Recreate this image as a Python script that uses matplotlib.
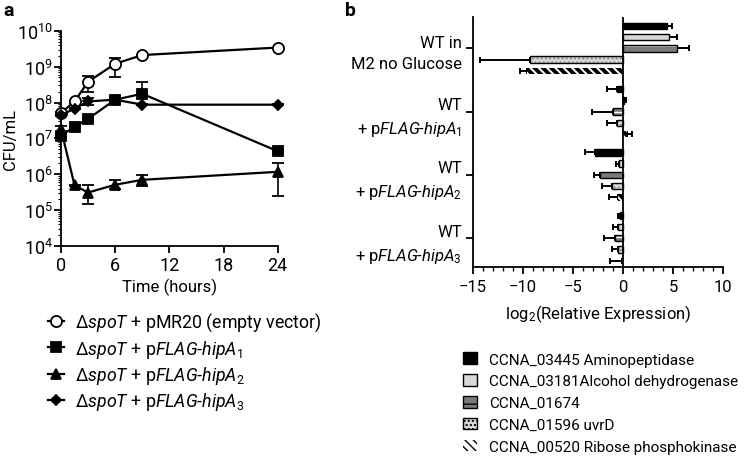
import numpy as np
import matplotlib
matplotlib.use("Agg")
import matplotlib.pyplot as plt
from matplotlib.patches import Patch
from matplotlib.lines import Line2D
from matplotlib.ticker import LogLocator, NullFormatter

plt.rcParams['font.family'] = ['Roboto', 'DejaVu Sans']
plt.rcParams['mathtext.fontset'] = 'custom'
plt.rcParams['mathtext.rm'] = 'Roboto'
plt.rcParams['mathtext.it'] = 'Roboto:italic'
plt.rcParams['mathtext.bf'] = 'Roboto:bold'
plt.rcParams['hatch.linewidth'] = 1.0

# ---- panel a data ----
hours = [0, 1.5, 3, 6, 9, 24]
empty = [5.1e7, 1.07e8, 3.8e8, 1.2e9, 2.1e9, 3.4e9]
empty_hi = [5.5e7, 1.1e8, 5.6e8, 1.75e9, 2.1e9, 3.4e9]
empty_lo = [4.7e7, 1.0e8, 1.95e8, 5.1e8, 2.1e9, 3.4e9]
hipA1 = [1.2e7, 2.1e7, 3.5e7, 1.2e8, 1.75e8, 4.4e6]
hipA1_hi = [1.3e7, 2.2e7, 3.6e7, 1.45e8, 3.7e8, 4.6e6]
hipA1_lo = [1.1e7, 2.0e7, 3.4e7, 0.95e8, 1.75e8, 4.2e6]
hipA2 = [1.8e7, 4.9e5, 3.1e5, 5.1e5, 7.0e5, 1.17e6]
hipA2_hi = [2.2e7, 5.0e5, 4.9e5, 7.1e5, 9.8e5, 2.1e6]
hipA2_lo = [1.5e7, 4.8e5, 1.45e5, 3.8e5, 4.7e5, 2.4e5]
hipA3 = [4.4e7, 6.8e7, 1.07e8, 1.2e8, 8.7e7, 8.7e7]
hipA3_hi = [4.6e7, 7.0e7, 1.35e8, 1.3e8, 9.0e7, 9.0e7]
hipA3_lo = [4.2e7, 6.6e7, 0.85e8, 1.1e8, 8.4e7, 8.4e7]
labels_a = [r'$\mathit{\Delta spoT}$ + pMR20 (empty vector)',
            r'$\mathit{\Delta spoT}$ + p$\mathit{FLAG}$-$\mathit{hipA_1}$',
            r'$\mathit{\Delta spoT}$ + p$\mathit{FLAG}$-$\mathit{hipA_2}$',
            r'$\mathit{\Delta spoT}$ + p$\mathit{FLAG}$-$\mathit{hipA_3}$']

# ---- panel b data ----
groups = ['WT in\nM2 no Glucose',
          'WT\n+ p$\\mathit{FLAG}$-$\\mathit{hipA_1}$',
          'WT\n+ p$\\mathit{FLAG}$-$\\mathit{hipA_2}$',
          'WT\n+ p$\\mathit{FLAG}$-$\\mathit{hipA_3}$']
genes = ['CCNA_03445 Aminopeptidase', 'CCNA_03181Alcohol dehydrogenase',
         'CCNA_01674', 'CCNA_01596 uvrD', 'CCNA_00520 Ribose phosphokinase']
g03445 = [4.37, -0.63, -2.8, -0.3]
g03181 = [4.63, 0.1, -0.4, -0.47]
g01674 = [5.43, -0.97, -2.3, -0.8]
g01596 = [-9.3, -0.63, -1.13, -0.47]
g00520 = [-9.63, 0.35, -0.47, -0.05]
e03445 = [0.5, 1.0, 1.0, 0.17]
e03181 = [0.8, 0.2, 0.3, 0.5]
e01674 = [1.2, 2.16, 0.6, 1.1]
e01596 = [5.0, 1.0, 1.0, 0.66]
e00520 = [0.67, 0.5, 0.93, 1.25]

fig = plt.figure(figsize=(7.47, 4.6), dpi=100)

# ================= panel a =================
ax = fig.add_axes([0.0817, 0.463, 0.29, 0.468])
styles = [dict(marker='o', mfc='white', ms=8),
          dict(marker='s', mfc='black', ms=7.5),
          dict(marker='^', mfc='black', ms=7.5),
          dict(marker='D', mfc='black', ms=5)]
series = [(empty, empty_lo, empty_hi), (hipA1, hipA1_lo, hipA1_hi),
          (hipA2, hipA2_lo, hipA2_hi), (hipA3, hipA3_lo, hipA3_hi)]
handles = []
for (y, lo, hi), st, lab in zip(series, styles, labels_a):
    y = np.array(y)
    yerr = [y - np.array(lo), np.array(hi) - y]
    ax.errorbar(hours, y, yerr=yerr, color='black', lw=1.6, capsize=4,
                elinewidth=1.2, capthick=1.2, mec='black', mew=1.3,
                clip_on=False, zorder=3, **st)
    handles.append(Line2D([], [], color='black', lw=1.6, mec='black', mew=1.3, **st))

ax.set_yscale('log')
ax.set_ylim(1e4, 1e10)
ax.yaxis.set_major_locator(LogLocator(base=10, numticks=12))
ax.yaxis.set_minor_locator(LogLocator(base=10, subs=np.arange(2, 10), numticks=12))
ax.yaxis.set_minor_formatter(NullFormatter())
ax.set_xlim(0, 24)
ax.set_xticks([0, 6, 12, 18, 24])
ax.spines['top'].set_visible(False)
ax.spines['right'].set_visible(False)
for s in ['left', 'bottom']:
    ax.spines[s].set_linewidth(1.3)
ax.tick_params(axis='both', labelsize=13, width=1.3, length=5)
ax.tick_params(axis='x', pad=2)
ax.tick_params(axis='y', pad=1)
ax.tick_params(axis='y', which='minor', width=0.8, length=2.5)
ax.set_ylabel('CFU/mL', fontsize=12)
ax.yaxis.set_label_coords(-0.2, 0.5)
ax.set_xlabel('Time (hours)', fontsize=12, labelpad=3)
fig.text(0.004, 0.995, 'a', fontsize=14, fontweight='bold', va='top')
fig.legend(handles, labels_a, loc='upper left', bbox_to_anchor=(0.055, 0.338),
           frameon=False, fontsize=12.8, handlelength=0.9, handletextpad=0.6,
           labelspacing=0.25, borderaxespad=0)

# ================= panel b =================
bx = fig.add_axes([0.633, 0.417, 0.335, 0.543])
vals = [g03445, g03181, g01674, g01596, g00520]
errs = [e03445, e03181, e01674, e01596, e00520]
faces = ['black', '#d8d8d8', '#7a7a7a', '#d8d8d8', 'white']
hatches = [None, None, '--', '....', '\\\\\\\\']
hcolors = ['black', 'black', 'white', '#888888', 'black']
hwidths = [1.0, 1.0, 1.0, 1.0, 2.8]
ypos = np.arange(len(groups))
step = 0.178
bh = 0.105
for j in range(5):
    yy = ypos + (j - 2) * step
    v = np.array(vals[j])
    e = np.array(errs[j])
    xerr = [np.where(v < 0, e, 0), np.where(v >= 0, e, 0)]
    bx.errorbar(v, yy, xerr=xerr, fmt='none', ecolor='black', elinewidth=1.4,
                capsize=2, capthick=1.4, zorder=1)
    plt.rcParams['hatch.linewidth'] = hwidths[j]
    bx.barh(yy, v, height=bh, color=faces[j], edgecolor=hcolors[j],
            hatch=hatches[j], linewidth=0, zorder=2)
    if j != 4:
        bx.barh(yy, v, height=bh, fill=False, edgecolor='black', linewidth=1.0, zorder=3)
plt.rcParams['hatch.linewidth'] = 1.0

bx.axvline(0, color='black', lw=1.3, zorder=4)
bx.set_xlim(-15, 10)
bx.set_ylim(3.46, -0.49)
bx.set_yticks(ypos)
bx.set_yticklabels(groups, fontsize=11.5, linespacing=1.5)
bx.set_xticks([-15, -10, -5, 0, 5, 10])
bx.set_xticks(np.arange(-15, 11, 1), minor=True)
bx.spines['top'].set_visible(False)
bx.spines['right'].set_visible(False)
for s in ['left', 'bottom']:
    bx.spines[s].set_linewidth(1.3)
bx.tick_params(axis='both', labelsize=12, width=1.3, length=5)
bx.tick_params(axis='y', pad=3)
bx.tick_params(axis='x', which='minor', width=1.0, length=3)
bx.set_xlabel('log$_2$(Relative Expression)', fontsize=12, labelpad=6)
fig.text(0.462, 0.995, 'b', fontsize=14, fontweight='bold', va='top')

phandles = []
for j in range(5):
    plt.rcParams['hatch.linewidth'] = hwidths[j]
    phandles.append(Patch(facecolor=faces[j], edgecolor='black',
                          hatch=hatches[j], linewidth=1.0 if j != 4 else 0))
plt.rcParams['hatch.linewidth'] = 1.0
fig.legend(phandles, genes, loc='upper left', bbox_to_anchor=(0.612, 0.245),
           frameon=False, fontsize=11, handlelength=0.9, handleheight=0.8,
           handletextpad=0.8, labelspacing=0.5, borderaxespad=0)

fig.savefig('out.png', dpi=100)
